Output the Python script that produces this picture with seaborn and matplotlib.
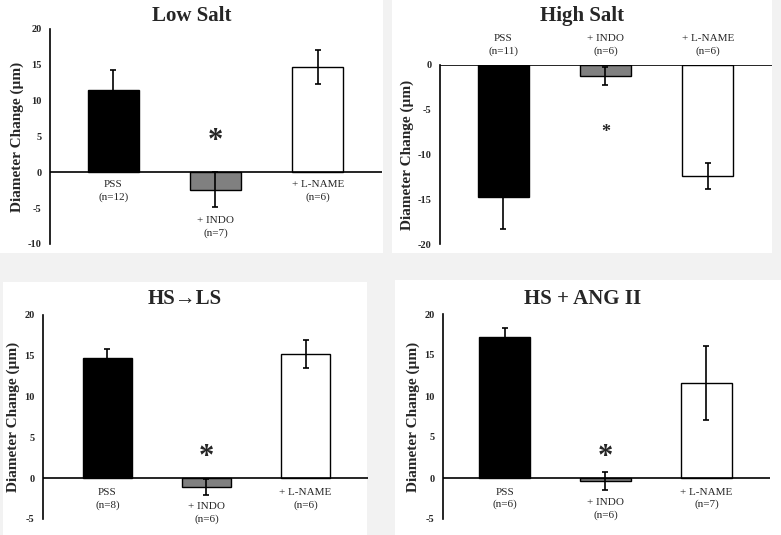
import matplotlib
matplotlib.use("Agg")
import matplotlib.pyplot as plt
from matplotlib.patches import Rectangle
import seaborn as sns
import pandas as pd

categories = ["PSS", "+ INDO", "+ L-NAME"]
bar_colors = ["black", "#808080", "white"]

low_salt_mean = [11.5, -2.4, 14.7]
low_salt_sem = [2.8, 2.5, 2.4]
low_salt_n = [12, 7, 6]

high_salt_mean = [-14.8, -1.2, -12.4]
high_salt_sem = [3.5, 1.0, 1.4]
high_salt_n = [11, 6, 6]

hs_ls_mean = [14.7, -1.1, 15.2]
hs_ls_sem = [1.1, 0.95, 1.7]
hs_ls_n = [8, 6, 6]

hs_ang_mean = [17.2, -0.35, 11.6]
hs_ang_sem = [1.05, 1.1, 4.5]
hs_ang_n = [6, 6, 7]

sns.set_style("white")
plt.rcParams['font.family'] = ['Liberation Serif', 'DejaVu Serif']

W, H = 781, 535
fig = plt.figure(figsize=(W / 100, H / 100), dpi=100)
fig.patch.set_facecolor("#f2f2f2")


def px_box(x0, y0, x1, y1):
    # pixel box (top-left origin) -> figure fraction [l, b, w, h]
    return [x0 / W, 1 - y1 / H, (x1 - x0) / W, (y1 - y0) / H]


panels = [
    dict(title="Low Salt", mean=low_salt_mean, sem=low_salt_sem, n=low_salt_n,
         ylim=(-10, 20), ticks=[-10, -5, 0, 5, 10, 15, 20],
         ax=px_box(50, 29, 382, 244), bg=px_box(0, 0, 383, 253),
         xlim=(-0.62, 2.63), title_xy=(192, 16),
         label_y=[-2.6, -7.6, -2.6], star=(4.3, 22)),
    dict(title="High Salt", mean=high_salt_mean, sem=high_salt_sem, n=high_salt_n,
         ylim=(-20, 0), ticks=[-20, -15, -10, -5, 0],
         ax=px_box(440, 65, 772, 244), bg=px_box(392, 0, 772, 253),
         xlim=(-0.62, 2.63), title_xy=(582, 16),
         label_y=[2.2, 2.2, 2.2], star=(-7.55, 13)),
    dict(title="HS\u2192LS", mean=hs_ls_mean, sem=hs_ls_sem, n=hs_ls_n,
         ylim=(-5, 20), ticks=[-5, 0, 5, 10, 15, 20],
         ax=px_box(43, 315, 368, 519), bg=px_box(3, 282, 367, 535),
         xlim=(-0.65, 2.63), title_xy=(185, 299),
         label_y=[-2.5, -4.3, -2.5], star=(2.55, 22)),
    dict(title="HS + ANG II", mean=hs_ang_mean, sem=hs_ang_sem, n=hs_ang_n,
         ylim=(-5, 20), ticks=[-5, 0, 5, 10, 15, 20],
         ax=px_box(443, 314, 770, 519), bg=px_box(395, 280, 781, 535),
         xlim=(-0.61, 2.63), title_xy=(583, 299),
         label_y=[-2.5, -3.8, -2.5], star=(2.55, 22)),
]

for p in panels:
    fig.patches.append(Rectangle(p["bg"][:2], p["bg"][2], p["bg"][3],
                                 transform=fig.transFigure, facecolor="white",
                                 edgecolor="none", zorder=-10))

for p in panels:
    ax = fig.add_axes(p["ax"])
    ax.set_facecolor("none")
    df = pd.DataFrame({"cond": categories, "change": p["mean"]})
    sns.barplot(data=df, x="cond", y="change", hue="cond", order=categories,
                hue_order=categories, palette=bar_colors, edgecolor="black",
                linewidth=1.0, width=0.5, errorbar=None, legend=False, ax=ax)
    ax.errorbar(range(3), p["mean"], yerr=p["sem"], fmt="none", ecolor="black",
                elinewidth=1.2, capsize=2.5, capthick=1.2, zorder=5)
    ax.axhline(0, color="black", lw=1.2, zorder=6)
    ax.set_xlim(*p["xlim"])
    ax.set_ylim(*p["ylim"])
    ax.set_yticks(p["ticks"])
    ax.set_yticklabels([str(t) for t in p["ticks"]], fontsize=7.5, fontweight="bold")
    ax.set_xticks([])
    ax.set_xlabel("")
    ax.set_ylabel("Diameter Change (\u00b5m)", fontsize=11, fontweight="bold", labelpad=3)
    for s in ["top", "right", "bottom"]:
        ax.spines[s].set_visible(False)
    ax.spines["left"].set_linewidth(1.2)
    ax.spines["left"].set_color("black")
    ax.tick_params(axis="y", direction="out", length=4, width=1.2, color="black", pad=2)
    for i, cat in enumerate(categories):
        ax.text(i, p["label_y"][i], f"{cat}\n(n={p['n'][i]})", ha="center", va="center",
                fontsize=8, linespacing=1.45, clip_on=False)
    star_y, star_size = p["star"]
    ax.text(1, star_y, "*", ha="center", va="center", fontsize=star_size,
            fontweight="bold", clip_on=False)
    fig.text(p["title_xy"][0] / W, 1 - p["title_xy"][1] / H, p["title"],
             ha="center", va="center", fontsize=15, fontweight="bold")

fig.savefig("out.png", dpi=100, facecolor=fig.get_facecolor())
